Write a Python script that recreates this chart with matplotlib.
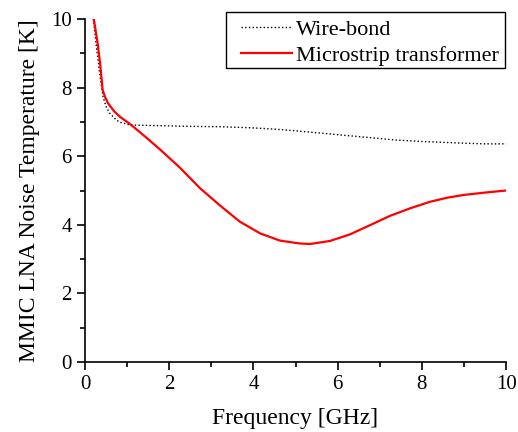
import matplotlib
matplotlib.use("Agg")
import matplotlib.pyplot as plt
from matplotlib.ticker import MultipleLocator
from matplotlib.patches import Rectangle

plt.rcParams['font.family'] = ['Liberation Serif', 'DejaVu Serif']

wb_f = [0.20, 0.28, 0.36, 0.43, 0.50, 0.59, 0.75, 0.83, 1.07, 1.4, 1.78, 2.5, 3.2, 3.92, 4.5, 5.0, 5.82, 6.06, 6.7, 7.40, 8.0, 8.99, 9.5, 10.0]
wb_t = [10.0, 9.1, 8.32, 7.73, 7.45, 7.25, 7.05, 6.99, 6.91, 6.90, 6.89, 6.87, 6.86, 6.83, 6.79, 6.74, 6.65, 6.62, 6.55, 6.47, 6.43, 6.38, 6.36, 6.36]

ms_f = [0.21, 0.30, 0.36, 0.42, 0.48, 0.55, 0.70, 0.83, 1.07, 1.43, 1.78, 2.26, 2.73, 3.2, 3.68, 4.16, 4.63, 5.07, 5.34, 5.82, 6.29, 6.77, 7.24, 7.72, 8.19, 8.6, 8.99, 9.5, 10.0]
ms_t = [10.0, 9.3, 8.7, 7.93, 7.72, 7.54, 7.30, 7.15, 6.94, 6.57, 6.20, 5.66, 5.07, 4.57, 4.09, 3.75, 3.54, 3.46, 3.44, 3.53, 3.72, 3.99, 4.26, 4.48, 4.67, 4.79, 4.87, 4.94, 5.00]

fig = plt.figure(figsize=(5.18, 4.32), dpi=100)
ax = fig.add_axes([0.164, 0.162, 0.813, 0.794])
ax.plot(wb_f, wb_t, color='black', linestyle=':', linewidth=1.0, label='Wire-bond')
ax.plot(ms_f, ms_t, color='red', linestyle='-', linewidth=1.6, label='Microstrip transformer')

ax.set_xlim(0, 10)
ax.set_ylim(0, 10)
ax.xaxis.set_major_locator(MultipleLocator(2))
ax.xaxis.set_minor_locator(MultipleLocator(1))
ax.yaxis.set_major_locator(MultipleLocator(2))
ax.yaxis.set_minor_locator(MultipleLocator(1))
for s in ['top', 'right']:
    ax.spines[s].set_visible(False)
for s in ['left', 'bottom']:
    ax.spines[s].set_linewidth(1.2)
ax.tick_params(which='major', direction='out', length=6, width=1.2, labelsize=15)
ax.tick_params(which='minor', direction='out', length=3.5, width=1.2)
ax.set_xlabel('Frequency [GHz]', fontsize=17, labelpad=10)
ax.set_ylabel('MMIC LNA Noise Temperature [K]', fontsize=17, labelpad=8)

# legend frame
fig.patches.append(Rectangle((226/518, 1 - 68.3/432), (505 - 226)/518, (68.3 - 11.7)/432,
                             transform=fig.transFigure, facecolor='white',
                             edgecolor='black', linewidth=1.0, zorder=5))
leg = fig.legend(*ax.get_legend_handles_labels(), loc='upper left',
                 bbox_to_anchor=(240.7/518, 1 - 19.5/432), fontsize=16, frameon=False,
                 handlelength=2.3, handletextpad=0.2, borderpad=0.0,
                 labelspacing=0.22, borderaxespad=0.0)
leg.set_zorder(6)

fig.savefig('out.png', dpi=100)
